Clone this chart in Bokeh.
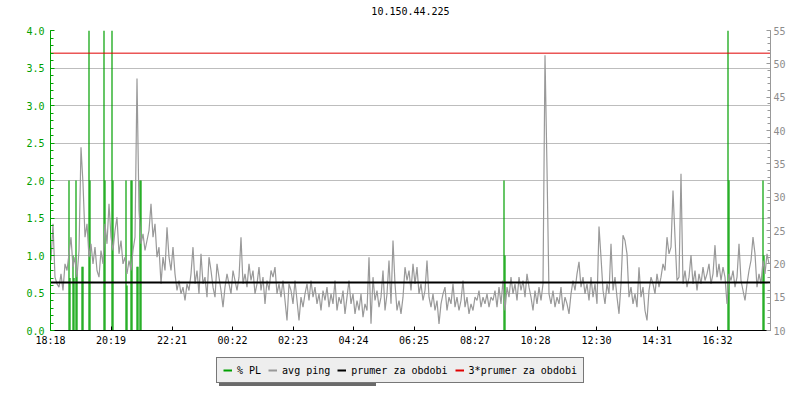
from bokeh.plotting import figure
from bokeh.layouts import column
from bokeh.models import (Range1d, LinearAxis, FixedTicker, Legend, LegendItem,
                          PrintfTickFormatter)
from bokeh.embed import file_html
from bokeh.resources import INLINE

# ---------------- data ----------------
title_text = "10.150.44.225"
period_minutes = 1440          # 18:18 -> 18:18 next day
ping_step_minutes = 4

x_tick_minutes = [0, 121, 243, 364, 485, 606, 727, 849, 970, 1092, 1213, 1334]
x_tick_labels = ["18:18", "20:19", "22:21", "00:22", "02:23", "04:24",
                 "06:25", "08:27", "10:28", "12:30", "14:31", "16:32"]

left_ticks = [0.0, 0.5, 1.0, 1.5, 2.0, 2.5, 3.0, 3.5, 4.0]      # % PL
right_ticks = [10, 15, 20, 25, 30, 35, 40, 45, 50, 55]          # ms

# packet loss samples (minutes after 18:18, percent)
pl_minutes = [36, 38, 44, 46, 50, 52, 62, 64, 76, 78, 106, 108, 122, 124,
              150, 152, 160, 162, 172, 174, 178, 180, 906, 908, 1354, 1356,
              1424, 1426]
pl_values = [2.0, 0.7, 1.0, 0.7, 2.0, 0.8, 0.85, 0.85, 5.0, 2.0, 5.0, 2.0,
             5.0, 2.0, 2.0, 0.6, 2.0, 2.0, 0.85, 0.85, 2.0, 2.0, 2.0, 1.0,
             5.0, 2.0, 2.0, 1.0]

# average ping (ms), one value every 4 minutes
ping_evening = [20.5, 26, 18, 17, 16.5, 18.5, 16, 20, 19, 21.5,
                24, 19.5, 21, 18, 22, 37.5, 32, 24, 26, 21,
                23, 20, 22.5, 19, 18, 22, 20, 26, 23, 29,
                24, 22, 25, 27, 21.5, 23.5, 20, 21, 18.5, 20.5,
                19, 22, 24, 47.8, 28, 23, 24.5, 22, 23.5, 25,
                29, 24, 26, 21, 22.5, 17, 21, 19, 25.5, 21,
                19, 22.5, 18.5, 16, 17.5, 15.5, 16.5, 14.5, 17, 16,
                18.5, 22.5, 17, 19, 15.5, 21.5, 17, 18, 15, 21,
                19, 16.5, 15, 20, 18, 16, 13.5, 16.5, 18.5, 17,
                15.5, 19, 17.5, 16, 18, 24, 17, 18.5, 16.5, 20,
                17.5, 19, 15.5, 17, 19.5, 16, 18, 14, 17.5, 16,
                19, 18, 19.5, 15.5, 17, 15, 17.5, 14.5, 11.5, 17]
ping_night = [16, 14, 17.5, 14.5, 11.5, 15, 13.5, 15.5, 17, 14.5,
              17.5, 15, 16.5, 14, 15.5, 13, 16, 14.5, 16.5, 13.5,
              15.5, 14, 17.5, 13, 15, 14, 16, 12.5, 15, 17.5,
              14, 15.5, 12.5, 14.5, 13, 15.5, 12, 14, 13, 21,
              11, 18, 14.5, 16, 13.5, 15, 19, 13, 15.5, 20.5,
              14, 23.5, 17, 13, 14.5, 12.5, 15, 19.5, 17.5, 19,
              16, 20, 17, 19.5, 15.5, 17, 14.5, 16, 20.5, 15,
              13.5, 15.5, 13, 14.5, 11, 14, 15.5, 16.5, 13, 15,
              14, 17, 13.5, 15, 13, 14.5, 17.5, 13.5, 15, 12.5,
              14, 13, 15, 14.5, 16, 13.5, 15, 14, 15.5, 13.5,
              15, 14.5, 16, 13.5, 16.5, 14, 17.5, 13, 16.5, 15,
              18, 15.5, 17, 14.5, 18, 16, 17.5, 15, 18.5, 16.5]
ping_day = [15, 13, 16, 14, 16.5, 14.5, 17, 51.3, 34.3, 15.5,
            14, 16, 13.5, 15, 14, 16.5, 13, 15, 14, 12.5,
            15.5, 17.5, 16, 18.5, 20.3, 16.5, 18, 15.5, 17, 14.5,
            18, 15, 17, 14, 25.6, 21, 16, 14, 17, 15.5,
            23, 16, 18, 15, 12.5, 17, 24.3, 23.5, 21.5, 15,
            16.5, 14, 15.5, 13.5, 19.5, 15, 16.5, 13, 11.5, 16,
            18, 17, 15.5, 18.5, 16.5, 18, 20, 19, 24, 21.5,
            22.5, 31, 24, 17.5, 18, 33.5, 17, 19, 16.5, 18,
            21.3, 17, 19, 16, 18.5, 17, 19.5, 17.5, 18.5, 20,
            17, 18.5, 22.8, 18, 20, 17.5, 19.5, 18, 14, 18.5,
            17.5, 19, 16.5, 18, 23, 17.5, 16, 14.5, 17, 19,
            20.5, 24, 21.5, 16.5, 18.5, 17, 20.5, 18.5, 21.5, 20]

avg_ping_period = 17.2    # "prumer za obdobi" (ms)

legend_labels = ["% PL", "avg ping", "prumer za obdobi", "3*prumer za obdobi"]

# ---------------- styling ----------------
FONT = "DejaVu Sans Mono"
GREEN = "#00a000"
GRAY = "#999999"
RED = "#e00000"
GRID = "#bdbdbd"

ping_ms = ping_evening + ping_night + ping_day
ping_x = [i * ping_step_minutes + 1 for i in range(len(ping_ms))]


def bare_strip(height):
    f = figure(width=800, height=height, output_backend="svg", toolbar_location=None,
               x_range=Range1d(0, 1), y_range=Range1d(0, 1),
               min_border_left=0, min_border_right=0, min_border_top=0,
               min_border_bottom=0, outline_line_color=None,
               x_axis_location=None, y_axis_location=None,
               background_fill_color="white", border_fill_color="white")
    f.grid.visible = False
    return f


# ---------------- title strip ----------------
tf = bare_strip(24)
tf.title.text = title_text
tf.title.align = "center"
tf.title.vertical_align = "top"
tf.title.text_font = FONT
tf.title.text_font_size = "10px"
tf.title.text_font_style = "normal"
tf.title.text_color = "black"
tf.title.standoff = 13

# ---------------- main chart ----------------
p = figure(width=800, height=326, output_backend="svg", toolbar_location=None,
           x_range=Range1d(0, period_minutes), y_range=Range1d(0, 4),
           min_border_left=50, min_border_right=30, min_border_top=6,
           min_border_bottom=20, outline_line_color=None,
           background_fill_color="white", border_fill_color="white")
p.extra_y_ranges = {"ms": Range1d(10, 55)}

# bottom axis
xa = p.xaxis[0]
xa.ticker = FixedTicker(ticks=x_tick_minutes)
xa.major_label_overrides = {t: lbl for t, lbl in zip(x_tick_minutes, x_tick_labels)}
xa.major_label_text_font = FONT
xa.major_label_text_font_size = "10px"
xa.major_label_text_color = "black"
xa.axis_line_color = "black"
xa.major_tick_line_color = "black"
xa.major_tick_in = 4
xa.major_tick_out = 0
xa.minor_tick_line_color = None
xa.major_label_standoff = 4

# left axis (% PL)
ya = p.yaxis[0]
ya.ticker = FixedTicker(ticks=left_ticks, minor_ticks=[k / 10 for k in range(41)])
ya.formatter = PrintfTickFormatter(format="%.1f")
ya.major_label_text_font = FONT
ya.major_label_text_font_size = "10px"
ya.major_label_text_color = GREEN
ya.axis_line_color = GREEN
ya.major_tick_line_color = GREEN
ya.minor_tick_line_color = GREEN
ya.major_tick_in = 4
ya.major_tick_out = 0
ya.minor_tick_in = 3
ya.minor_tick_out = 0
ya.major_label_standoff = 6

# right axis (ms)
ra = LinearAxis(y_range_name="ms",
                ticker=FixedTicker(ticks=right_ticks, minor_ticks=list(range(10, 56))))
ra.major_label_text_font = FONT
ra.major_label_text_font_size = "10px"
ra.major_label_text_color = "#8c8c8c"
ra.axis_line_color = GRAY
ra.major_tick_line_color = GRAY
ra.minor_tick_line_color = GRAY
ra.major_tick_in = 4
ra.major_tick_out = 0
ra.minor_tick_in = 3
ra.minor_tick_out = 0
ra.major_label_standoff = 3
p.add_layout(ra, "right")

p.xgrid.visible = False
p.ygrid.ticker = FixedTicker(ticks=left_ticks)
p.ygrid.grid_line_color = GRID

# data renderers
p.vbar(x=[t + 1 for t in pl_minutes], top=pl_values, width=2.4,
       fill_color=GREEN, line_color=None)
p.line(x=ping_x, y=ping_ms, y_range_name="ms", line_color=GRAY, line_width=1.2)
p.line(x=[0, period_minutes], y=[avg_ping_period] * 2, y_range_name="ms",
       line_color="black", line_width=2)
p.line(x=[0, period_minutes], y=[3 * avg_ping_period] * 2, y_range_name="ms",
       line_color=RED, line_width=1)

# ---------------- legend strip below the chart ----------------
lf = bare_strip(50)
colors = [GREEN, GRAY, "black", RED]
# swatch renderers hold a point outside the visible range, only to draw the legend keys
swatches = [lf.line(x=[-2, -1], y=[-2, -2], line_color=c, line_width=2) for c in colors]
ghosts = [lf.line(x=[-2, -1], y=[-2, -2], line_color=c, line_width=2, line_alpha=0)
          for c in colors]

common = dict(orientation="horizontal", glyph_width=9, glyph_height=12,
              label_height=12, label_standoff=5, spacing=7, padding=6, margin=0,
              label_text_font=FONT, label_text_font_size="10px")
shadow = Legend(items=[LegendItem(label=" " * len(l), renderers=[r])
                       for l, r in zip(legend_labels, ghosts)],
                location=(169, 14), background_fill_color="#6a6a6a",
                background_fill_alpha=1, border_line_color=None, **common)
legend = Legend(items=[LegendItem(label=l, renderers=[r]) for l, r in zip(legend_labels, swatches)],
                location=(166, 17), background_fill_color="#eeeeee",
                background_fill_alpha=1, border_line_color="black",
                border_line_width=1, label_text_color="black", **common)
lf.add_layout(shadow)
lf.add_layout(legend)

open("out.html", "w").write(file_html(column(tf, p, lf, spacing=0), INLINE))
